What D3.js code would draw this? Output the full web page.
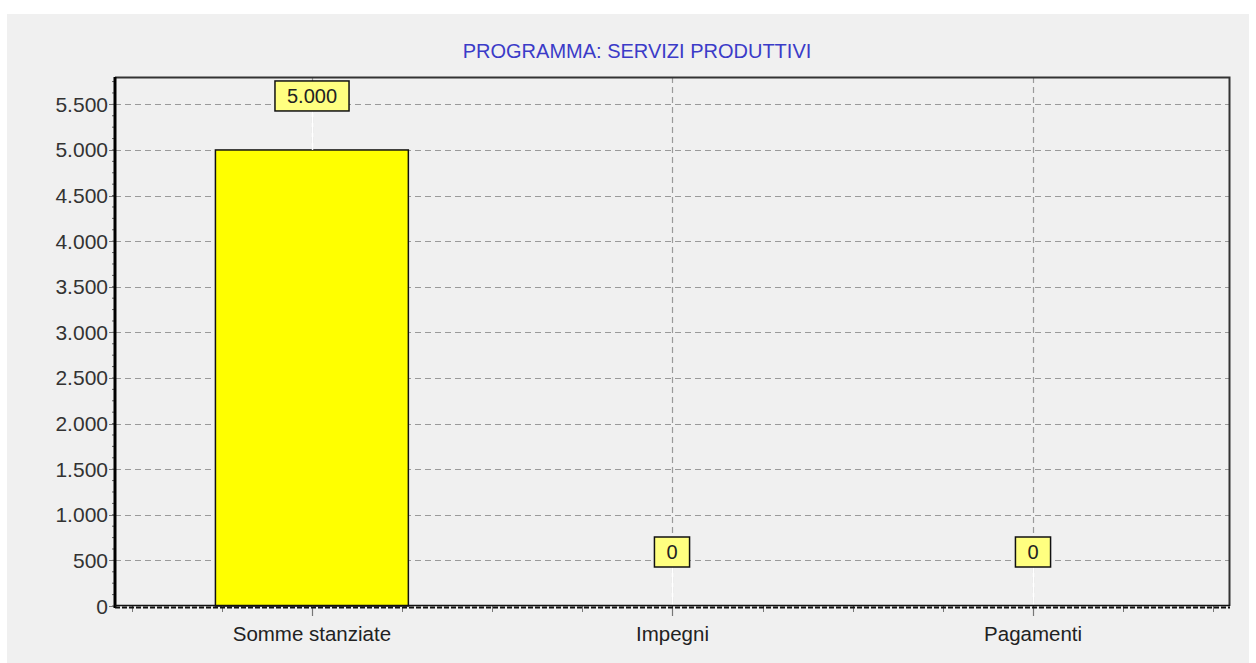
<!DOCTYPE html>
<html>
<head>
<meta charset="utf-8">
<script src="https://cdn.jsdelivr.net/npm/d3@7"></script>
<style>
html,body{margin:0;padding:0;background:#ffffff;}
svg{display:block;font-family:"Liberation Sans",Arial,sans-serif;}
</style>
</head>
<body>
<svg id="chart" width="1256" height="663"></svg>
<script>
const title = "PROGRAMMA: SERVIZI PRODUTTIVI";
const categories = ["Somme stanziate", "Impegni", "Pagamenti"];
const values = [5000, 0, 0];
const valueLabels = ["5.000", "0", "0"];
const yTicks = [0, 500, 1000, 1500, 2000, 2500, 3000, 3500, 4000, 4500, 5000, 5500];
const yTickLabels = ["0", "500", "1.000", "1.500", "2.000", "2.500", "3.000", "3.500", "4.000", "4.500", "5.000", "5.500"];

const svg = d3.select("#chart");
const W = 1256, H = 663;
const pL = 115, pR = 1230, pT = 77, pB = 606;

// panel background
svg.append("rect").attr("x", 7).attr("y", 14).attr("width", 1242).attr("height", H - 14).attr("fill", "#f0f0f0");

const y = d3.scaleLinear().domain([0, 5800]).range([pB, pT]);
const x = d3.scaleLinear().domain([-0.546, categories.length - 1 + 0.546]).range([pL, pR]);

// title
svg.append("text").attr("x", 637).attr("y", 58).attr("text-anchor", "middle")
  .attr("font-size", 20).attr("fill", "#3b3bc8").text(title);

// horizontal grid
svg.append("g").selectAll("line").data(yTicks.slice(1)).join("line")
  .attr("x1", pL).attr("x2", pR)
  .attr("y1", d => Math.round(y(d)) + 0.5).attr("y2", d => Math.round(y(d)) + 0.5)
  .attr("stroke", "#9a9a9a").attr("stroke-width", 1.2).attr("stroke-dasharray", "6,4");

// vertical grid at categories
svg.append("g").selectAll("line").data(categories).join("line")
  .attr("x1", (d, i) => Math.round(x(i)) + 0.5).attr("x2", (d, i) => Math.round(x(i)) + 0.5)
  .attr("y1", pT).attr("y2", pB)
  .attr("stroke", "#9a9a9a").attr("stroke-width", 1.2).attr("stroke-dasharray", "6,4");

// plot border top/right
svg.append("path").attr("d", `M${pL},${pT + 0.5}H${pR - 0.5}V${pB}`)
  .attr("fill", "none").attr("stroke", "#333").attr("stroke-width", 2);

// bars
const barW = 0.535;
svg.append("g").selectAll("rect").data(values).join("rect")
  .attr("x", (d, i) => x(i - barW / 2)).attr("width", x(barW) - x(0))
  .attr("y", d => y(d)).attr("height", d => y(0) - y(d))
  .attr("fill", "#ffff00").attr("stroke", "#111").attr("stroke-width", 1.5);

// label leaders (white)
const gap = 39;
svg.append("g").selectAll("line").data(values).join("line")
  .attr("x1", (d, i) => Math.round(x(i)) + 0.5).attr("x2", (d, i) => Math.round(x(i)) + 0.5)
  .attr("y1", d => y(d) - gap).attr("y2", d => d === 0 ? y(d) + 1 : y(d))
  .attr("stroke", "#ffffff").attr("stroke-width", 1.5);

// value label boxes
const lab = svg.append("g").selectAll("g").data(values).join("g")
  .attr("transform", (d, i) => `translate(${Math.round(x(i))},${y(d) - gap})`);
lab.append("text").attr("x", 0).attr("y", -8).attr("text-anchor", "middle")
  .attr("font-size", 20).attr("fill", "#222").text((d, i) => valueLabels[i]);
lab.each(function () {
  const g = d3.select(this);
  const bb = g.select("text").node().getBBox();
  const w = bb.width + 24, h = 30;
  g.insert("rect", "text").attr("x", -w / 2).attr("y", -h).attr("width", w).attr("height", h)
    .attr("fill", "#ffff80").attr("stroke", "#111").attr("stroke-width", 1.5);
});

// y axis
const yAxis = svg.append("g");
const yMinor = d3.range(0, 5800, 125);
yAxis.selectAll("line.minor").data(yMinor).join("line").attr("class", "minor")
  .attr("x1", pL - 3).attr("x2", pL)
  .attr("y1", d => y(d)).attr("y2", d => y(d))
  .attr("stroke", "#666").attr("stroke-width", 1);
yAxis.selectAll("line.major").data(yTicks).join("line").attr("class", "major")
  .attr("x1", pL - 6).attr("x2", pL)
  .attr("y1", d => Math.round(y(d)) + 0.5).attr("y2", d => Math.round(y(d)) + 0.5)
  .attr("stroke", "#777").attr("stroke-width", 1);
yAxis.selectAll("text").data(yTicks).join("text")
  .attr("x", pL - 7).attr("y", d => y(d) + 7.5).attr("text-anchor", "end")
  .attr("font-size", 21).attr("fill", "#333").text((d, i) => yTickLabels[i]);
yAxis.append("line").attr("x1", pL).attr("x2", pL).attr("y1", pT).attr("y2", pB + 2)
  .attr("stroke", "#000").attr("stroke-width", 3);

// x axis
const xAxis = svg.append("g");
const xMinor = d3.range(-0.5, categories.length - 0.5 + 0.01, 0.25);
xAxis.selectAll("line.minor").data(xMinor).join("line").attr("class", "minor")
  .attr("x1", d => Math.round(x(d)) + 0.5).attr("x2", d => Math.round(x(d)) + 0.5)
  .attr("y1", pB).attr("y2", pB + 6)
  .attr("stroke", "#777").attr("stroke-width", 1);
xAxis.selectAll("line.major").data(categories).join("line").attr("class", "major")
  .attr("x1", (d, i) => Math.round(x(i)) + 0.5).attr("x2", (d, i) => Math.round(x(i)) + 0.5)
  .attr("y1", pB).attr("y2", pB + 10)
  .attr("stroke", "#777").attr("stroke-width", 1.2);
xAxis.append("line").attr("x1", pL).attr("x2", pR).attr("y1", pB - 0.5).attr("y2", pB - 0.5)
  .attr("stroke", "#111").attr("stroke-width", 1.5);
xAxis.append("line").attr("x1", pL).attr("x2", pR).attr("y1", pB + 1.5).attr("y2", pB + 1.5)
  .attr("stroke", "#111").attr("stroke-width", 2).attr("stroke-dasharray", "5,2");
xAxis.selectAll("text").data(categories).join("text")
  .attr("x", (d, i) => x(i)).attr("y", 641).attr("text-anchor", "middle")
  .attr("font-size", 20.5).attr("fill", "#222").text(d => d);
</script>
</body>
</html>
